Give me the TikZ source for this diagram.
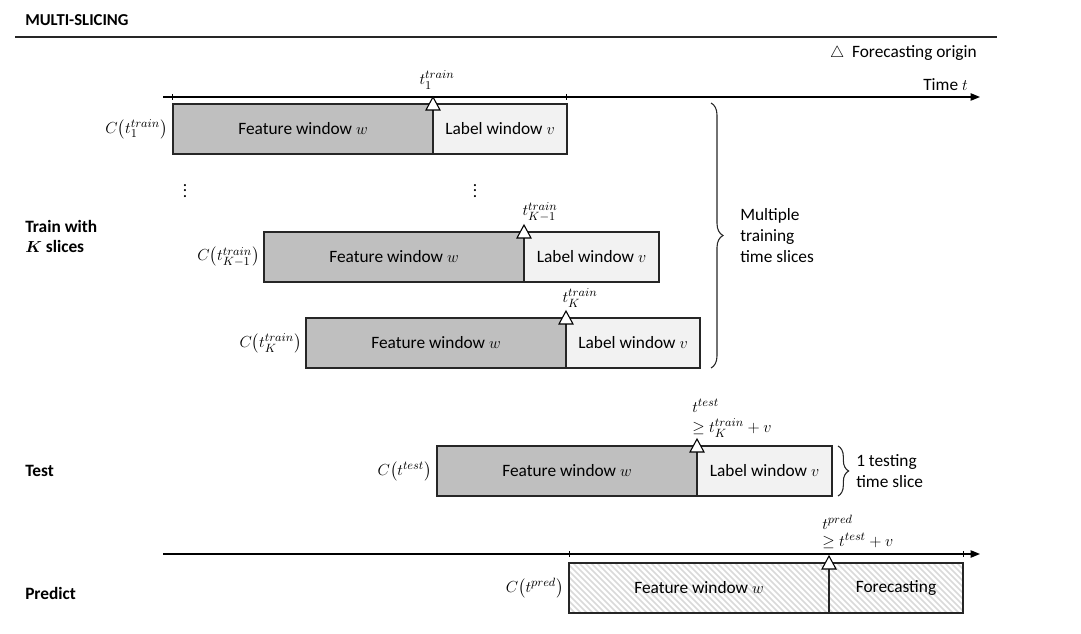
\documentclass[tikz,border=0pt]{standalone}
\usepackage{fontspec}
\setmainfont{Carlito}
\usepackage{amsmath}
\usepackage{bm}
\usetikzlibrary{arrows.meta,decorations.pathreplacing}
\definecolor{featgray}{HTML}{BFBFBF}
\definecolor{labgray}{HTML}{F2F2F2}
\definecolor{edge}{HTML}{262626}
\definecolor{hatch}{HTML}{D9D9D9}
\begin{document}
\begin{tikzpicture}[x=0.75pt,y=-0.75pt,font=\fontsize{13}{15.75}\selectfont,
  boxbase/.style={draw=edge,line width=0.9pt,inner sep=0pt,outer sep=0pt,anchor=north west,minimum height=50*0.75pt},
  featbox/.style={boxbase,fill=featgray},
  labbox/.style={boxbase,fill=labgray},
  hatchbox/.style={boxbase},
  axis/.style={draw=black,line width=0.9pt,-{Triangle[length=7pt,width=5.5pt]}},
  tick/.style={draw=black,line width=0.6pt},
  origin/.style={draw=black,fill=white,line width=0.8pt,line join=miter},
  brc/.style={draw=edge,line width=0.8pt,decorate,decoration={brace,amplitude=#1}},
  side/.style={font=\fontsize{13}{15}\selectfont\bfseries,anchor=west,align=left},
  clab/.style={anchor=east,inner sep=1pt},
  tlab/.style={inner sep=0pt}
]
\useasboundingbox (0,0) rectangle (1081,634);

% title
\node[anchor=west,font=\fontsize{12.5}{15}\selectfont\bfseries,inner sep=0pt] (title) at (25,20) {MULTI-SLICING};
\draw[draw=edge,line width=1.1pt] (15,37) -- (997,37);
\node[anchor=east,inner sep=0pt] (legend) at (977,53) {$\triangle$\ \ Forecasting origin};

% top time axis
\coordinate (ax1s) at (163,97);
\coordinate (ax1e) at (980,97);
\draw[axis] (ax1s) -- (ax1e);
\draw[tick] (172,94) -- (172,100);
\draw[tick] (566,94) -- (566,100);
\node[anchor=east,inner sep=0pt] (timelab) at (968,85) {Time $t$};

% slice 1
\node[featbox,minimum width=260*0.75pt] (f1) at (173,104) {Feature window $w$};
\node[labbox,minimum width=134*0.75pt] (l1) at (433,104) {Label window $v$};
\draw[origin] (426,110) -- (433,97) -- (440,110) -- cycle;
\node[tlab] (o1) at (437,80) {$t_1^{train}$};
\node[clab] (c1) at (169,129) {$C\big(t_1^{train}\big)$};

% dots
\node[inner sep=0pt] (d1) at (185,187) {$\vdots$};
\node[inner sep=0pt] (d2) at (475,187) {$\vdots$};

% slice K-1
\node[featbox,minimum width=260*0.75pt] (f2) at (264,232) {Feature window $w$};
\node[labbox,minimum width=135*0.75pt] (l2) at (524,232) {Label window $v$};
\draw[origin] (517,238) -- (524,225) -- (531,238) -- cycle;
\node[tlab] (o2) at (540,212) {$t_{K-1}^{train}$};
\node[clab] (c2) at (261,257) {$C\big(t_{K-1}^{train}\big)$};

% slice K
\node[featbox,minimum width=260*0.75pt] (f3) at (306,318) {Feature window $w$};
\node[labbox,minimum width=134*0.75pt] (l3) at (566,318) {Label window $v$};
\draw[origin] (559,324) -- (566,311) -- (573,324) -- cycle;
\node[tlab] (o3) at (580,298) {$t_K^{train}$};
\node[clab] (c3) at (303,343) {$C\big(t_K^{train}\big)$};

% brace train
\draw[brc=9pt] (711,103) -- (711,368);
\node[anchor=west,align=left,inner sep=0pt] (multi) at (740,236) {Multiple\\training\\time slices};
\node[side,inner sep=0pt] (train) at (25,236) {Train with\\$\bm{K}$ slices};

% test
\node[featbox,minimum width=260*0.75pt] (f4) at (437,446) {Feature window $w$};
\node[labbox,minimum width=135*0.75pt] (l4) at (697,446) {Label window $v$};
\draw[origin] (690,452) -- (697,439) -- (704,452) -- cycle;
\node[anchor=west,tlab] (o4a) at (692,406) {$t^{test}$};
\node[anchor=west,tlab] (o4b) at (692,428) {$\geq t_K^{train}+v$};
\node[clab] (c4) at (433,471) {$C\big(t^{test}\big)$};
\draw[brc=8pt] (838,446) -- (838,496);
\node[anchor=west,align=left,inner sep=0pt] (onetest) at (856,471) {1 testing\\time slice};
\node[side,inner sep=0pt] (testlab) at (25,471) {Test};

% predict axis
\coordinate (ax2s) at (163,554);
\coordinate (ax2e) at (980,554);
\draw[axis] (ax2s) -- (ax2e);
\draw[tick] (569,551) -- (569,557);
\draw[tick] (963,551) -- (963,557);

% predict box (hatched)
\begin{scope}
  \clip (569,563) rectangle (963,613);
  \foreach \i in {0,...,80} {
    \draw[hatch,line width=1.1pt] ({519+\i*6},563) -- ++(50,50);
  }
\end{scope}
\node[hatchbox,minimum width=260*0.75pt] (f5) at (569,563) {Feature window $w$};
\node[hatchbox,minimum width=134*0.75pt] (l5) at (829,563) {Forecasting};
\draw[origin] (822,569) -- (829,556) -- (836,569) -- cycle;
\node[anchor=west,tlab] (o5a) at (822,522) {$t^{pred}$};
\node[anchor=west,tlab] (o5b) at (822,541) {$\geq t^{test}+v$};
\node[clab] (c5) at (565,588) {$C\big(t^{pred}\big)$};
\node[side,inner sep=0pt] (predlab) at (25,593) {Predict};
\end{tikzpicture}
\end{document}
